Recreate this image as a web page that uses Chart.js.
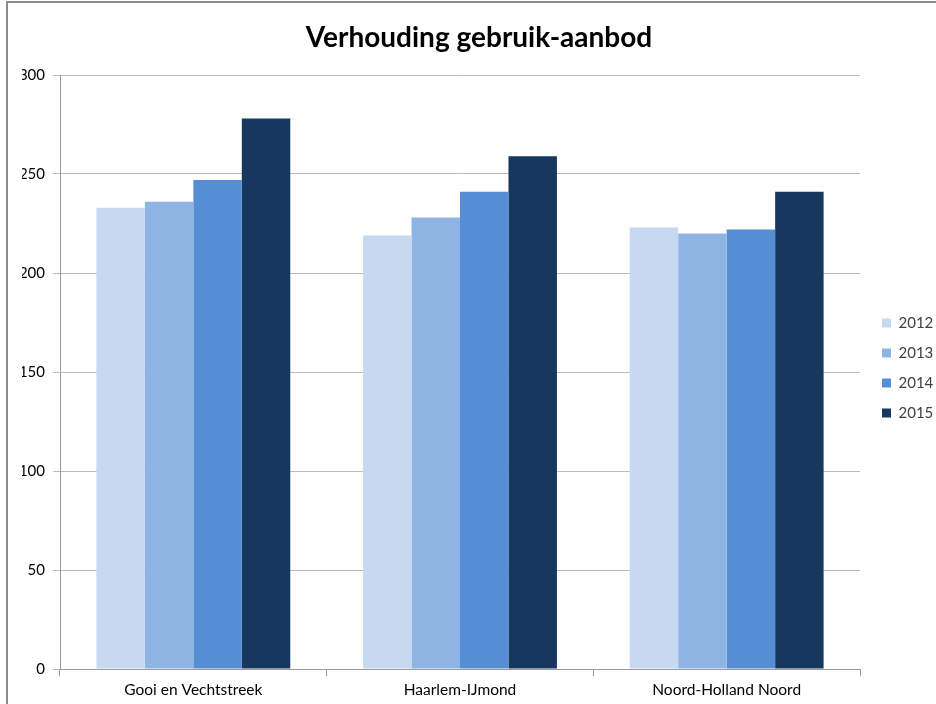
<!DOCTYPE html>
<html>
<head>
<meta charset="utf-8">
<script src="https://cdn.jsdelivr.net/npm/chart.js@4"></script>
<style>
    body { margin: 0; background: #fff; }
    #wrap { position: relative; width: 936px; height: 704px; overflow: hidden; }
    #frame {
        position: absolute; left: 6px; top: 1px; width: 2000px; height: 2000px;
        border-left: 2px solid #8c8c8c; border-top: 2px solid #8c8c8c;
        pointer-events: none;
    }
</style>
</head>
<body>
<div id="wrap">
    <canvas id="usageChart" width="936" height="704"></canvas>
    <div id="frame"></div>
</div>
<script>
const categories = ['Gooi en Vechtstreek', 'Haarlem-IJmond', 'Noord-Holland Noord'];
const years = ['2012', '2013', '2014', '2015'];
const values2012 = [233, 219, 223];
const values2013 = [236, 228, 220];
const values2014 = [247, 241, 222];
const values2015 = [278, 259, 241];
const yMin = 0;
const yMax = 300;
const yStep = 50;

const seriesValues = [values2012, values2013, values2014, values2015];
const seriesColors = ['#C6D9F1', '#8EB4E3', '#558ED5', '#17375E'];

const FONT = 'Lato, "Open Sans", sans-serif';

// legend sits a bit away from the plot, like in Excel
const legendPlacement = {
    id: 'legendPlacement',
    beforeInit: function (chart) {
        const origFit = chart.legend.fit;
        chart.legend.fit = function () {
            origFit.call(this);
            this.width = 76;
        };
    },
    afterLayout: function (chart) {
        const lg = chart.legend;
        lg.left += 7;
        lg.right += 7;
        lg.top += 11;
        lg.bottom += 11;
    }
};

let datasets = [];
for (let i = 0; i < years.length; i++) {
    datasets.push({
        label: years[i],
        data: seriesValues[i],
        backgroundColor: seriesColors[i],
        hoverBackgroundColor: seriesColors[i],
        borderWidth: 0,
        categoryPercentage: 0.727,
        barPercentage: 1.0
    });
}

const ctx = document.getElementById('usageChart').getContext('2d');
const usageChart = new Chart(ctx, {
    type: 'bar',
    data: {
        labels: categories,
        datasets: datasets
    },
    options: {
        responsive: false,
        animation: false,
        layout: {
            padding: { left: 22, right: 0, top: 10, bottom: 0 }
        },
        plugins: {
            title: {
                display: true,
                text: 'Verhouding gebruik-aanbod',
                color: '#000',
                font: { family: FONT, size: 28, weight: 'bold' },
                padding: { top: 11, bottom: 20.4 }
            },
            legend: {
                display: true,
                position: 'right',
                labels: {
                    boxWidth: 9,
                    boxHeight: 9,
                    padding: 15,
                    color: '#404040',
                    font: { family: FONT, size: 15 }
                }
            },
            tooltip: { enabled: false }
        },
        scales: {
            x: {
                grid: {
                    display: true,
                    drawOnChartArea: false,
                    drawTicks: true,
                    tickLength: 7,
                    color: '#9a9a9a'
                },
                border: { display: true, color: '#9a9a9a' },
                ticks: {
                    color: '#000',
                    padding: 5,
                    font: { family: FONT, size: 15.5 }
                },
                afterFit: function (scale) {
                    scale.height = 35;
                }
            },
            y: {
                min: yMin,
                max: yMax,
                grid: {
                    color: '#bcbcbc',
                    tickLength: 7,
                    lineWidth: 1
                },
                border: { display: true, color: '#9a9a9a' },
                ticks: {
                    stepSize: yStep,
                    color: '#000',
                    padding: 8,
                    font: { family: FONT, size: 15 }
                },
                afterFit: function (scale) {
                    scale.width = 38;
                }
            }
        }
    },
    plugins: [legendPlacement]
});
</script>
</body>
</html>
